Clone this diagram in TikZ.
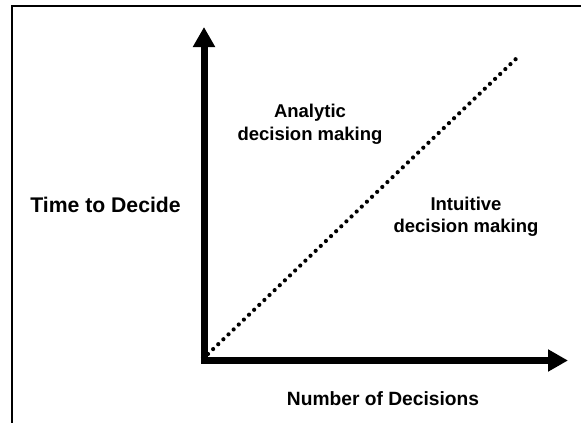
\documentclass[tikz,border=0pt]{standalone}
\usepackage{fontspec}
\setmainfont{Liberation Sans}
\usetikzlibrary{arrows.meta}
\begin{document}
\begin{tikzpicture}[x=1pt,y=-1pt,
  axis/.style={line width=7pt,-{Triangle[length=20pt,width=21pt]}},
  lbl/.style={font=\bfseries\fontsize{18.5}{22.5}\selectfont,align=center,inner sep=0pt,anchor=base},
  frame/.style={line width=2.6pt}]
\useasboundingbox (0,0) rectangle (581,423);
\fill[white] (0,0) rectangle (581,423);
\coordinate (fbl) at (12,430);
\coordinate (ftl) at (12,6);
\coordinate (ftr) at (590,6);
\draw[frame] (fbl) -- (ftl) -- (ftr);
\coordinate (o) at (204,360.5);
\coordinate (ytip) at (204,27);
\coordinate (xtip) at (568,360.5);
\coordinate (dstart) at (208,354);
\coordinate (dend) at (520,55);
\draw[line width=4.2pt,line cap=round,dash pattern=on 0pt off 7.1pt] (dstart) -- (dend);
\draw[axis] ([yshift=3.5pt]o) -- (ytip);
\draw[axis] ([xshift=-3.5pt]o) -- (xtip);
\node[lbl] (ana) at (310,140.2) {Analytic\\decision making};
\node[lbl] (int) at (466,232.5) {Intuitive\\decision making};
\node[lbl,font=\bfseries\fontsize{21.2}{24}\selectfont] (ttd) at (105.5,212.7) {Time to Decide};
\node[lbl,font=\bfseries\fontsize{19.2}{23}\selectfont] (nod) at (383,405) {Number of Decisions};
\end{tikzpicture}
\end{document}
